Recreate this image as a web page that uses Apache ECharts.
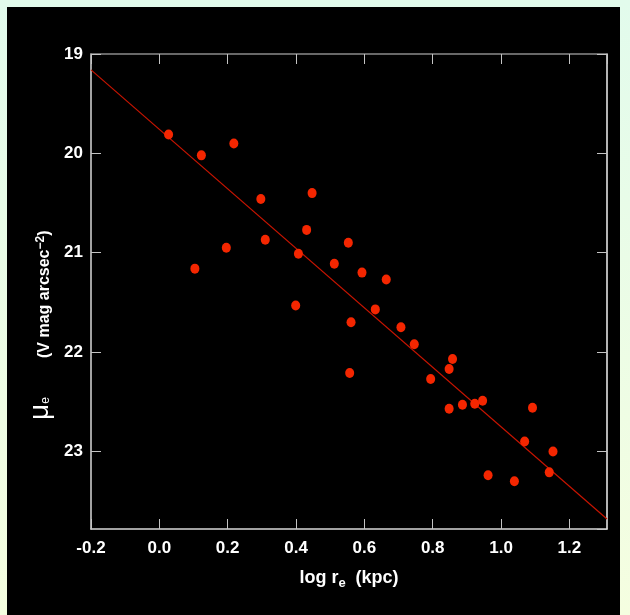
<!DOCTYPE html>
<html>
<head>
<meta charset="utf-8">
<script src="https://cdn.jsdelivr.net/npm/echarts@6/dist/echarts.min.js"></script>
<style>
  html, body { margin: 0; padding: 0; }
  body {
    width: 630px; height: 615px; position: relative; overflow: hidden;
    background: linear-gradient(to bottom, #e2fbec, #f5fee0);
  }
  #panel { position: absolute; left: 7px; top: 7px; width: 613px; height: 608px; background: #000; }
  #chart { position: absolute; left: 0; top: 0; width: 630px; height: 615px; }
</style>
</head>
<body>
<div id="panel"></div>
<div id="chart"></div>
<script>
// log r_e (kpc)
const logRe = [
  0.027, 0.123, 0.218, 0.297, 0.447, 0.431, 0.310, 0.196, 0.553, 0.407, 0.104,
  0.512, 0.593, 0.664, 0.399, 0.632, 0.561, 0.707, 0.746, 0.858, 0.848, 0.794,
  0.557, 0.848, 0.887, 0.923, 0.946, 1.092, 1.069, 1.152, 1.141, 0.962, 1.039
];
// mu_e (V mag arcsec^-2)
const muE = [
  19.81, 20.02, 19.90, 20.46, 20.40, 20.77, 20.87, 20.95, 20.90, 21.01, 21.16,
  21.11, 21.20, 21.27, 21.53, 21.57, 21.70, 21.75, 21.92, 22.07, 22.17, 22.27,
  22.21, 22.57, 22.53, 22.52, 22.49, 22.56, 22.90, 23.00, 23.21, 23.24, 23.30
];
// fitted line end points
const fitX = [-0.2, 1.31];
const fitY = [19.16, 23.68];

const xTicks = [-0.2, 0.0, 0.2, 0.4, 0.6, 0.8, 1.0, 1.2];
const yTicks = [19, 20, 21, 22, 23];

const chart = echarts.init(document.getElementById("chart"));

const font = "'Liberation Sans', Arial, sans-serif";
const tickStyle = { show: true, inside: true, length: 10, lineStyle: { color: "#c4c4c4", width: 1 } };

const xBase = {
  type: "value",
  min: -0.2,
  max: 1.31,
  interval: 0.2,
  splitLine: { show: false },
  axisTick: tickStyle
};
const yBase = {
  type: "value",
  inverse: true,
  min: 19,
  max: 23.78,
  interval: 1,
  splitLine: { show: false },
  axisTick: tickStyle
};

const options = {
  backgroundColor: "transparent",
  animation: false,
  grid: { left: 91, top: 54, right: 23, bottom: 86 },
  xAxis: [
    {
      ...xBase,
      position: "bottom",
      axisLine: { onZero: false, lineStyle: { color: "#d8d8d8", width: 1.5 } },
      axisLabel: {
        color: "#fff",
        fontFamily: font,
        fontWeight: "bold",
        fontSize: 17,
        margin: 11,
        showMaxLabel: false,
        formatter: (v) => (xTicks.some((t) => Math.abs(t - v) < 1e-6) ? v.toFixed(1) : "")
      },
      name: "log r{sub|e}  (kpc)",
      nameLocation: "middle",
      nameGap: 38,
      nameTextStyle: {
        color: "#fff",
        fontFamily: font,
        fontWeight: "bold",
        fontSize: 18,
        rich: {
          sub: { color: "#fff", fontFamily: font, fontWeight: "bold", fontSize: 13, padding: [10, 0, 0, 0] }
        }
      }
    },
    {
      ...xBase,
      position: "top",
      axisLine: { onZero: false, lineStyle: { color: "#8a8a8a", width: 1.5 } },
      axisLabel: { show: false }
    }
  ],
  yAxis: [
    {
      ...yBase,
      position: "left",
      axisLine: { onZero: false, lineStyle: { color: "#d8d8d8", width: 1.5 } },
      axisLabel: {
        color: "#fff",
        fontFamily: font,
        fontWeight: "bold",
        fontSize: 17,
        margin: 8,
        showMaxLabel: false,
        formatter: (v) => (yTicks.includes(v) ? String(v) : "")
      }
    },
    {
      ...yBase,
      position: "right",
      axisLine: { onZero: false, lineStyle: { color: "#f0f0f0", width: 1.5 } },
      axisLabel: { show: false }
    }
  ],
  graphic: [
    {
      type: "text",
      x: 45,
      y: 358,
      rotation: Math.PI / 2,
      style: {
        text: "(V mag arcsec{sup|−2})",
        fill: "#fff",
        font: "bold 16px " + font,
        textAlign: "left",
        textVerticalAlign: "middle",
        rich: {
          sup: { fill: "#fff", font: "bold 12px " + font, padding: [0, 0, 9, 0] }
        }
      }
    },
    {
      type: "text",
      x: 40,
      y: 420,
      rotation: Math.PI / 2,
      style: {
        text: "μ{sub|e}",
        fill: "#fff",
        font: "28px " + font,
        textAlign: "left",
        textVerticalAlign: "middle",
        rich: {
          sub: { fill: "#fff", font: "12px " + font, padding: [12, 0, 0, 0] }
        }
      }
    }
  ],
  series: [
    {
      type: "line",
      data: fitX.map((x, i) => [x, fitY[i]]),
      showSymbol: false,
      lineStyle: { color: "#c81400", width: 1.2 },
      silent: true,
      z: 2
    },
    {
      type: "scatter",
      data: logRe.map((x, i) => [x, muE[i]]),
      symbol: "circle",
      symbolSize: [9, 10],
      itemStyle: { color: "#f42600", opacity: 1 },
      z: 3
    }
  ]
};

chart.setOption(options);
</script>
</body>
</html>
